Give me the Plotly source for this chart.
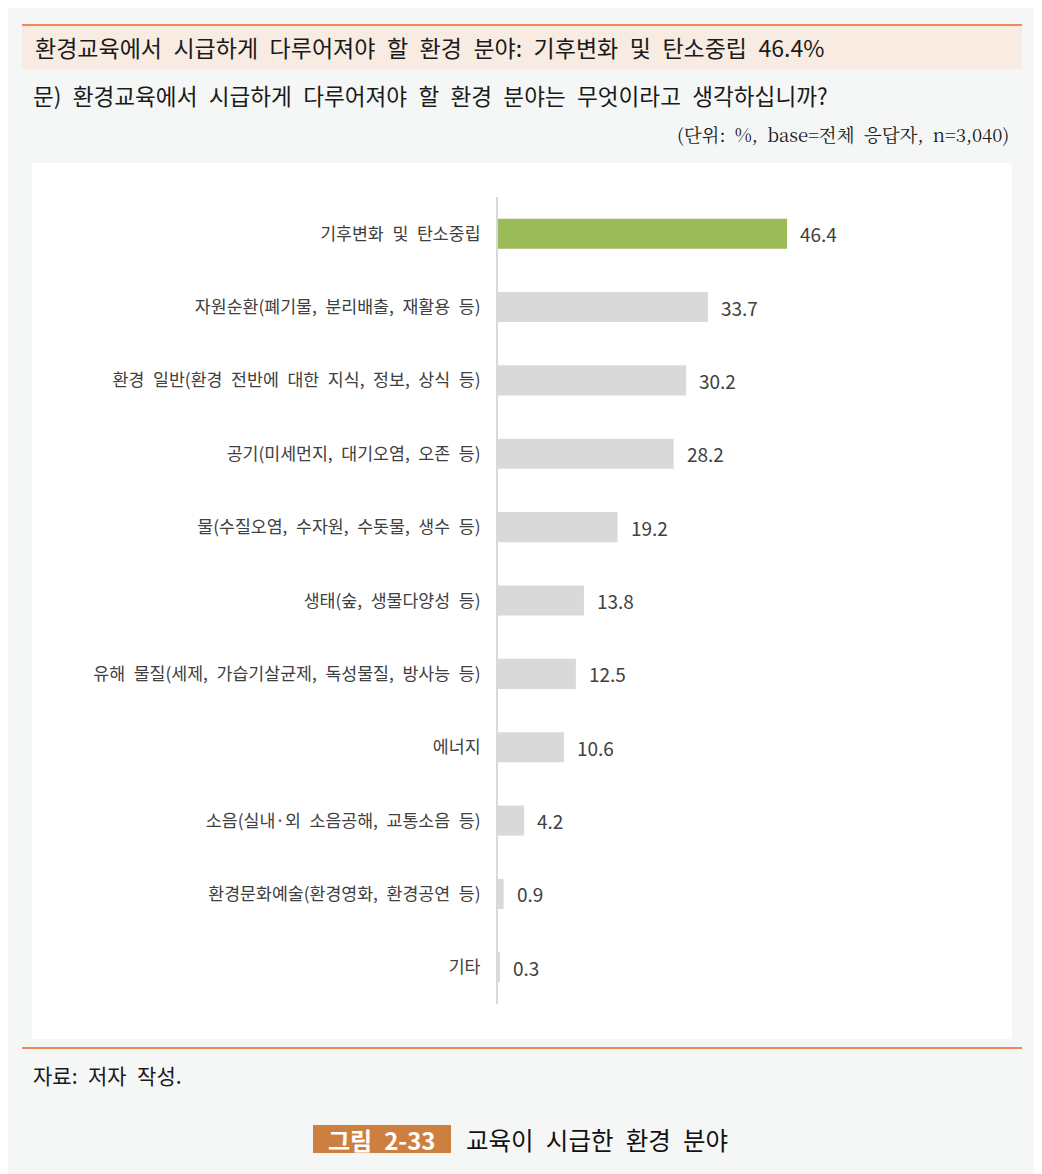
import plotly.graph_objects as go

W, H = 1042, 1174
OFF = 8  # page body margin of the html page

categories = [
    "기후변화 및 탄소중립",
    "자원순환(폐기물, 분리배출, 재활용 등)",
    "환경 일반(환경 전반에 대한 지식, 정보, 상식 등)",
    "공기(미세먼지, 대기오염, 오존 등)",
    "물(수질오염, 수자원, 수돗물, 생수 등)",
    "생태(숲, 생물다양성 등)",
    "유해 물질(세제, 가습기살균제, 독성물질, 방사능 등)",
    "에너지",
    "소음(실내·외 소음공해, 교통소음 등)",
    "환경문화예술(환경영화, 환경공연 등)",
    "기타",
]
values = [46.4, 33.7, 30.2, 28.2, 19.2, 13.8, 12.5, 10.6, 4.2, 0.9, 0.3]

GREEN = "#9bbb59"
GREY_BAR = "#d9d9d9"
ORANGE_LINE = "#ee8a5a"
FONT = "Noto Sans CJK KR"


def px(x):
    return (x - OFF) / W


def py(y):
    return 1 - (y - OFF) / H


def wide(s):
    # the source typesetting uses wide word spacing
    return s.replace(" ", "\u2002")


bar_colors = [GREEN] + [GREY_BAR] * (len(values) - 1)
labels = [wide(c) for c in categories]

fig = go.Figure()
fig.add_trace(go.Bar(
    x=values,
    y=labels,
    orientation="h",
    marker=dict(color=bar_colors, line=dict(width=0)),
    width=0.41,
    hoverinfo="skip",
))

# value labels just right of each bar
for lab, v in zip(labels, values):
    fig.add_annotation(
        x=v, y=lab, xref="x", yref="y",
        text=f"{v:.1f}", showarrow=False,
        xanchor="left", xshift=11,
        font=dict(family=FONT, size=19, color="#404040"),
    )

# page furniture
shapes = [
    # white chart panel
    dict(type="rect", xref="paper", yref="paper", layer="below",
         x0=px(32), x1=px(1012), y0=py(1039), y1=py(163),
         fillcolor="white", line=dict(width=0)),
    # title band
    dict(type="rect", xref="paper", yref="paper", layer="below",
         x0=px(22), x1=px(1022), y0=py(69), y1=py(25),
         fillcolor="#f7ebe2", line=dict(width=0)),
    dict(type="line", xref="paper", yref="paper",
         x0=px(22), x1=px(1022), y0=py(25), y1=py(25),
         line=dict(color=ORANGE_LINE, width=2)),
    dict(type="line", xref="paper", yref="paper",
         x0=px(22), x1=px(1022), y0=py(1048), y1=py(1048),
         line=dict(color=ORANGE_LINE, width=2)),
    # caption box
    dict(type="rect", xref="paper", yref="paper",
         x0=px(313), x1=px(451), y0=py(1153), y1=py(1125),
         fillcolor="#cd7f3f", line=dict(width=0)),
]

texts = [
    dict(x=px(33), y=py(47), text=wide("환경교육에서 시급하게 다루어져야 할 환경 분야: 기후변화 및 탄소중립 46.4%"),
         xanchor="left", font=dict(family=FONT, size=23, color="#1a1a1a")),
    dict(x=px(31), y=py(95), text=wide("문) 환경교육에서 시급하게 다루어져야 할 환경 분야는 무엇이라고 생각하십니까?"),
         xanchor="left", font=dict(family=FONT, size=22.6, color="#1a1a1a")),
    dict(x=px(1011), y=py(134), text=wide("(단위: %, base=전체 응답자, n=3,040)"),
         xanchor="right", font=dict(family="Noto Serif CJK KR, Liberation Serif, serif", size=18.5, color="#1a1a1a")),
    dict(x=px(31), y=py(1075), text=wide("자료: 저자 작성."),
         xanchor="left", font=dict(family=FONT, size=21, color="#1a1a1a")),
    dict(x=px(382), y=py(1139), text="<b>" + wide("그림 2-33") + "</b>",
         xanchor="center", font=dict(family=FONT, size=24, color="white")),
    dict(x=px(464), y=py(1139), text=wide("교육이 시급한 환경 분야"),
         xanchor="left", font=dict(family=FONT, size=24.5, color="#111111")),
]
for t in texts:
    fig.add_annotation(xref="paper", yref="paper", showarrow=False, yanchor="middle", **t)

fig.update_xaxes(
    domain=[px(498), px(998)],
    range=[0, 500 / 6.23],
    visible=False,
)
fig.update_yaxes(
    domain=[py(1004), py(197)],
    autorange="reversed",
    showline=True, linecolor="#d9d9d9", linewidth=2,
    showgrid=False, ticks="", ticklabelstandoff=12,
    tickfont=dict(family=FONT, size=17.3, color="#404040"),
)
fig.update_layout(
    width=W, height=H,
    margin=dict(l=0, r=0, t=0, b=0),
    paper_bgcolor="#f5f7f6",
    plot_bgcolor="rgba(0,0,0,0)",
    showlegend=False,
    bargap=0.59,
    shapes=shapes,
)

fig.write_html("out.html")
